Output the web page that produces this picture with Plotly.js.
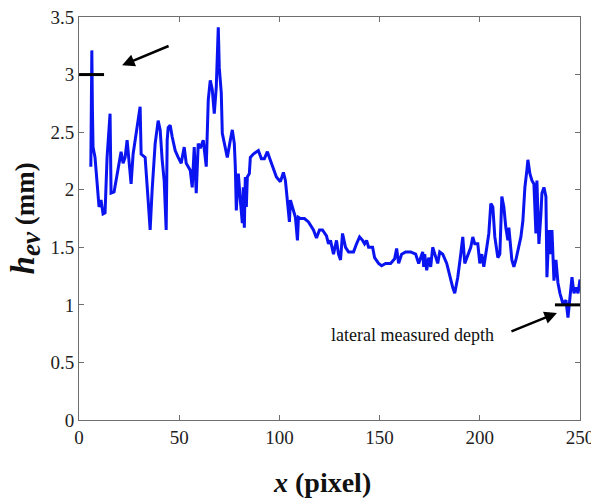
<!DOCTYPE html>
<html>
<head>
<meta charset="utf-8">
<script src="https://cdn.plot.ly/plotly-3.0.1.min.js"></script>
<style>html,body{margin:0;padding:0;background:#fff;}#chart{width:591px;height:500px;}</style>
</head>
<body>
<div id="chart"></div>
<script>
const xPixel = [5.9,6.4,6.7,7.0,8.0,10.0,11.0,12.0,13.0,14.0,15.5,16.0,17.5,19.5,21.0,22.0,23.0,24.0,25.0,26.0,27.0,30.5,31.0,33.0,34.5,35.5,36.5,38.0,39.5,40.5,41.5,42.5,43.5,44.0,44.5,45.5,46.5,48.0,49.5,51.0,52.5,53.5,55.5,56.5,57.5,58.5,59.5,60.5,62.0,63.5,64.5,65.5,66.5,67.5,68.5,69.5,70.0,71.0,71.5,73.0,74.0,75.5,76.5,77.5,78.0,78.5,79.5,80.5,81.5,82.0,82.5,83.0,83.5,84.0,85.0,85.5,87.0,89.5,91.0,92.5,94.0,95.0,96.5,98.5,100.5,102.0,103.0,104.0,105.0,105.5,108.0,109.0,109.5,110.5,112.5,114.5,117.0,118.5,120.0,121.5,123.5,124.5,125.5,127.0,128.5,129.5,130.5,131.5,133.0,134.5,137.0,138.5,140.0,141.5,142.5,143.5,144.5,146.5,147.5,149.5,151.0,153.0,155.5,157.5,158.5,159.5,161.0,163.0,165.5,168.0,169.5,171.5,172.0,172.5,173.5,174.5,175.5,176.5,177.5,179.0,180.0,181.5,183.5,185.0,186.5,187.5,189.0,190.5,191.5,192.5,194.0,195.5,196.5,197.5,199.0,200.0,201.0,202.0,203.5,204.5,205.5,206.5,207.5,209.0,210.0,211.0,212.0,213.0,214.0,214.5,216.0,217.0,218.0,219.5,220.5,221.5,222.5,223.5,224.0,225.0,226.0,227.0,228.0,228.5,229.5,230.5,231.0,232.0,233.0,233.5,234.5,235.5,236.0,237.0,238.0,239.0,240.0,241.5,243.0,244.0,245.0,246.0,247.0,248.0,249.0,250.0];
const hEv = [2.2,3.21,2.69,2.37,2.28,1.85,1.91,1.79,1.80,2.28,2.66,1.97,1.98,2.2,2.33,2.23,2.28,2.43,2.2,2.05,2.31,2.72,2.31,2.28,1.91,1.65,2.0,2.4,2.6,2.52,2.26,2.08,1.65,2.43,2.54,2.56,2.46,2.34,2.28,2.23,2.37,2.23,2.17,2.02,2.37,1.97,2.4,2.36,2.43,2.2,2.78,2.95,2.87,2.66,2.89,3.41,3.06,2.84,2.49,2.37,2.28,2.43,2.52,2.4,2.2,1.82,2.14,1.91,1.71,2.02,1.67,2.11,1.85,2.11,2.14,2.28,2.31,2.34,2.27,2.27,2.33,2.28,2.2,2.11,2.07,2.15,2.08,1.88,1.72,1.91,1.76,1.56,1.76,1.75,1.75,1.72,1.65,1.58,1.65,1.65,1.6,1.53,1.56,1.44,1.56,1.44,1.39,1.62,1.5,1.46,1.46,1.53,1.59,1.56,1.53,1.56,1.5,1.5,1.41,1.36,1.34,1.36,1.36,1.4,1.49,1.36,1.44,1.46,1.46,1.44,1.36,1.46,1.33,1.44,1.3,1.41,1.33,1.5,1.44,1.36,1.46,1.44,1.36,1.24,1.15,1.1,1.24,1.44,1.59,1.36,1.44,1.5,1.59,1.53,1.53,1.36,1.44,1.33,1.5,1.62,1.88,1.85,1.59,1.41,1.44,1.94,1.85,1.67,1.56,1.67,1.39,1.33,1.39,1.53,1.59,1.73,2.02,2.17,2.26,2.14,2.08,2.05,1.62,2.08,1.53,1.79,1.97,2.02,1.94,1.24,1.65,1.44,1.65,1.21,1.39,1.19,1.1,1.01,1.04,0.89,1.1,1.24,1.1,1.15,1.1,1.22];
const xTicks = [0,50,100,150,200,250];
const yTicks = [0,0.5,1,1.5,2,2.5,3,3.5];
const annotationText = "lateral measured depth";
const xTitle = "<b><i>x</i> (pixel)</b>";
const yTitle = "<b><i><span style='font-size:33px'>h</span></i><sub><i><span style='font-size:27px'>ev</span></i></sub> (mm)</b>";

const serif = "Liberation Serif, Times New Roman, serif";
const axisCommon = {
  showline: true, mirror: 'ticks', linecolor: '#6e6e6e', linewidth: 1,
  ticks: 'inside', ticklen: 5, tickcolor: '#6e6e6e', showgrid: false, zeroline: false,
  tickfont: {family: serif, size: 19, color: '#222'}
};
const layout = {
  width: 591, height: 500,
  margin: {l: 79, r: 11, t: 17, b: 80},
  paper_bgcolor: '#fff', plot_bgcolor: '#fff',
  showlegend: false,
  xaxis: Object.assign({}, axisCommon, {range: [0, 250], tickvals: xTicks, ticktext: xTicks.map(String), ticklabeloverflow: 'allow'}),
  yaxis: Object.assign({}, axisCommon, {range: [0, 3.5], tickvals: yTicks, ticktext: yTicks.map(String)}),
  shapes: [
    {type: 'line', xref: 'x', yref: 'y', x0: 0, x1: 12.5, y0: 3, y1: 3, line: {color: '#000', width: 3}},
    {type: 'line', xref: 'x', yref: 'y', x0: 237.5, x1: 250, y0: 1, y1: 1, line: {color: '#000', width: 3}}
  ],
  annotations: [
    {x: 21.5, y: 3.08, xref: 'x', yref: 'y', text: '', showarrow: true, arrowhead: 2, arrowsize: 1, arrowwidth: 2.5, arrowcolor: '#000', ax: 48, ay: -20},
    {x: 238.5, y: 0.93, xref: 'x', yref: 'y', text: '', showarrow: true, arrowhead: 2, arrowsize: 1, arrowwidth: 2.5, arrowcolor: '#000', ax: -47, ay: 19},
    {x: 166.2, y: 0.735, xref: 'x', yref: 'y', text: annotationText, showarrow: false, font: {family: serif, size: 18, color: '#111'}},
    {x: 0.485, y: -0.155, xref: 'paper', yref: 'paper', text: xTitle, showarrow: false, yanchor: 'middle', font: {family: serif, size: 28, color: '#111'}},
    {x: -0.106, y: 0.50, xref: 'paper', yref: 'paper', text: yTitle, textangle: -90, showarrow: false, xanchor: 'center', yanchor: 'middle', font: {family: serif, size: 27, color: '#111'}}
  ]
};
Plotly.newPlot('chart', [{
  x: xPixel, y: hEv, type: 'scatter', mode: 'lines',
  line: {color: '#0a14f0', width: 3}
}], layout, {staticPlot: true, displayModeBar: false});
</script>
</body>
</html>
